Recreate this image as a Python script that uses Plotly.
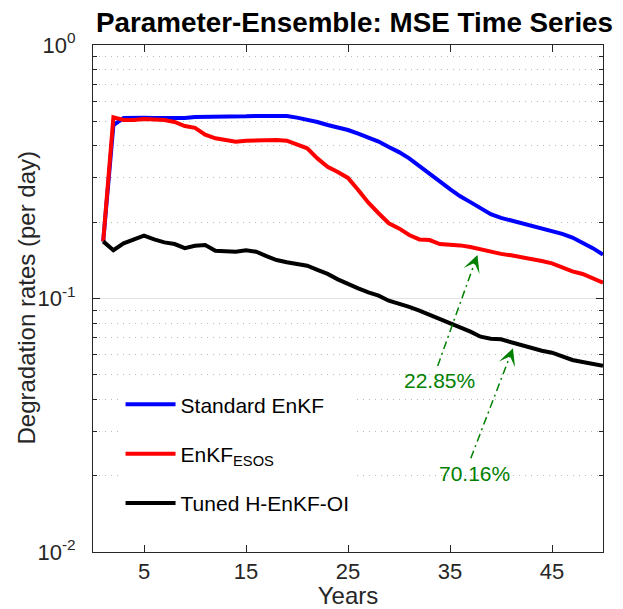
import math
import plotly.graph_objects as go

years = list(range(1, 51))

standard_enkf = [0.168, 0.483, 0.515, 0.517, 0.517, 0.515, 0.514, 0.512, 0.515, 0.520,
                 0.520, 0.522, 0.522, 0.522, 0.523, 0.525, 0.524, 0.524, 0.525, 0.517,
                 0.509, 0.497, 0.4835, 0.473, 0.462, 0.447, 0.432, 0.416, 0.396, 0.378,
                 0.357, 0.333, 0.314, 0.290, 0.270, 0.253, 0.240, 0.228, 0.215, 0.208,
                 0.203, 0.199, 0.194, 0.190, 0.185, 0.180, 0.174, 0.1665, 0.158, 0.149]

enkf_esos = [0.168, 0.519, 0.506, 0.506, 0.511, 0.508, 0.506, 0.497, 0.479, 0.471,
             0.443, 0.4285, 0.4207, 0.4156, 0.4195, 0.4207, 0.422, 0.422, 0.4195, 0.4044,
             0.3914, 0.357, 0.331, 0.3155, 0.299, 0.268, 0.2387, 0.2169, 0.198, 0.189,
             0.178, 0.171, 0.170, 0.164, 0.1635, 0.162, 0.1596, 0.156, 0.1526, 0.150,
             0.148, 0.1454, 0.144, 0.1406, 0.1376, 0.1327, 0.128, 0.1249, 0.120, 0.1154]

tuned_henkf_oi = [0.168, 0.155, 0.165, 0.171, 0.177, 0.171, 0.1665, 0.164, 0.158, 0.1615,
                  0.1626, 0.1543, 0.154, 0.153, 0.155, 0.153, 0.147, 0.1418, 0.139, 0.137,
                  0.1347, 0.1296, 0.125, 0.119, 0.114, 0.1097, 0.1057, 0.1026, 0.098, 0.0954,
                  0.0926, 0.0895, 0.0863, 0.083, 0.0803, 0.0774, 0.074, 0.0707, 0.0694, 0.069,
                  0.0671, 0.0656, 0.064, 0.0622, 0.0611, 0.059, 0.0572, 0.0562, 0.0552, 0.0543]

series_names = ["Standard EnKF", "EnKF<sub>ESOS</sub>", "Tuned H-EnKF-OI"]
series_colors = ["#0000ff", "#ff0000", "#000000"]

x_ticks = [5, 15, 25, 35, 45]
y_ticks = [0.01, 0.1, 1]
y_tick_text = ["10<sup>-2</sup>", "10<sup>-1</sup>", "10<sup>0</sup>"]

ann_labels = ["22.85%", "70.16%"]
ann_text_pos = [(34.0, 0.0477), (37.37, 0.0204)]
ann_tail = [(33.79, 0.0542), (37.04, 0.02344)]
ann_head = [(37.69, 0.1485), (41.17, 0.0636)]

GREEN = "#008000"
AXC = "#262626"
FONT = "Liberation Sans, Arial, Helvetica, sans-serif"

fig = go.Figure()
for i, (name, vals) in enumerate(zip(series_names, [standard_enkf, enkf_esos, tuned_henkf_oi])):
    fig.add_trace(go.Scatter(x=years, y=vals, mode="lines", name=name,
                             legendgroup=f"g{i}",
                             line=dict(color=series_colors[i], width=4)))

# dash-dot annotation lines
for (tx, ty), (hx, hy) in zip(ann_tail, ann_head):
    fig.add_trace(go.Scatter(x=[tx, hx], y=[ty, hy], mode="lines", showlegend=False,
                             hoverinfo="skip",
                             line=dict(color=GREEN, width=1.5, dash="8px,4px,2px,4px")))

annotations = []
for lab, (px, py) in zip(ann_labels, ann_text_pos):
    annotations.append(dict(x=px, y=math.log10(py), xref="x", yref="y", text=lab,
                            showarrow=False, font=dict(color=GREEN, size=21, family=FONT)))
for (hx, hy) in ann_head:
    annotations.append(dict(x=hx, y=math.log10(hy), xref="x", yref="y", text="",
                            showarrow=True, arrowhead=3, arrowsize=1.9, arrowwidth=1.5,
                            arrowcolor=GREEN, ax=-3.5, ay=9.5, standoff=0))
# y-axis title
annotations.append(dict(x=(26 - 93) / 510, y=0.5, xref="paper", yref="paper",
                        text="Degradation rates (per day)", textangle=-90, showarrow=False,
                        xanchor="center", yanchor="middle",
                        font=dict(size=24, color=AXC, family=FONT)))

fig.update_layout(
    width=623, height=609,
    margin=dict(l=93, r=20, t=45, b=57),
    paper_bgcolor="white", plot_bgcolor="white",
    font=dict(family=FONT, color=AXC),
    title=dict(text="<b>Parameter-Ensemble: MSE Time Series</b>", x=354.5 / 623, xref="container",
               xanchor="center", y=1 - 22 / 609, yref="container", yanchor="middle",
               font=dict(size=27.8, color="#000000", family=FONT)),
    showlegend=True,
    legend=dict(x=0.054, y=0.331, xanchor="left", yanchor="top", bgcolor="white",
                borderwidth=0, font=dict(size=21, color="#000000", family=FONT),
                traceorder="grouped", tracegroupgap=19, itemwidth=50),
    annotations=annotations,
)

fig.update_xaxes(range=[0, 50], tickvals=x_ticks, ticks="inside", ticklen=7,
                 tickcolor=AXC, showline=True, linecolor=AXC, linewidth=1,
                 mirror="allticks", showgrid=False, zeroline=False, automargin=False,
                 tickfont=dict(size=22, color=AXC),
                 title=dict(text="Years", font=dict(size=24, color=AXC), standoff=0))

fig.update_yaxes(type="log", range=[-2, 0], tickvals=y_ticks, ticktext=y_tick_text,
                 ticks="inside", ticklen=7, tickcolor=AXC, showline=True, linecolor=AXC,
                 linewidth=1, mirror="allticks", showgrid=True, gridcolor="#e3e3e3",
                 gridwidth=1, zeroline=False, automargin=False, ticklabelstandoff=12,
                 tickfont=dict(size=22, color=AXC),
                 minor=dict(dtick="D1", ticks="inside", ticklen=4, tickcolor=AXC,
                            showgrid=True, gridcolor="#b8b8b8", griddash="1px,5px",
                            gridwidth=1))

fig.write_html("out.html", config={"displayModeBar": False},
               post_script="document.body.style.margin='0px';document.body.style.padding='0px';")
